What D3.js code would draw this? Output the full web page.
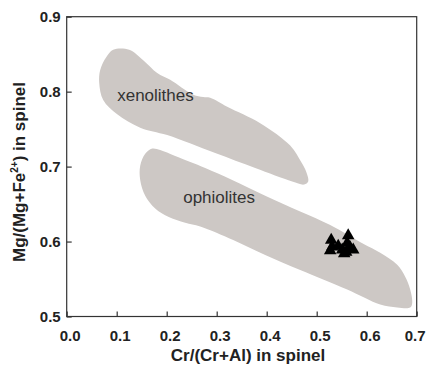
<!DOCTYPE html>
<html><head><meta charset="utf-8">
<script src="https://cdn.jsdelivr.net/npm/d3@7"></script>
<style>body{margin:0;background:#fff}svg{display:block}</style>
</head><body>
<svg id="c" width="426" height="365"></svg>
<script>
const xTicks = [0.0,0.1,0.2,0.3,0.4,0.5,0.6,0.7];
const yTicks = [0.5,0.6,0.7,0.8,0.9];
// field outlines [Cr/(Cr+Al), Mg/(Mg+Fe2+)]
const xenolithes = [[0.093,0.856],[0.125,0.856],[0.153,0.842],[0.181,0.825],[0.207,0.816],[0.253,0.796],[0.273,0.793],[0.287,0.792],[0.321,0.780],[0.387,0.758],[0.447,0.728],[0.469,0.706],[0.479,0.693],[0.483,0.680],[0.475,0.676],[0.451,0.680],[0.377,0.698],[0.297,0.718],[0.201,0.742],[0.147,0.752],[0.101,0.770],[0.073,0.789],[0.065,0.812],[0.067,0.829],[0.079,0.846]];
const ophiolites = [[0.171,0.724],[0.187,0.722],[0.217,0.714],[0.277,0.698],[0.331,0.682],[0.397,0.661],[0.467,0.640],[0.527,0.622],[0.593,0.597],[0.627,0.585],[0.661,0.569],[0.677,0.553],[0.687,0.536],[0.691,0.518],[0.687,0.512],[0.661,0.512],[0.627,0.516],[0.561,0.536],[0.467,0.562],[0.397,0.582],[0.333,0.602],[0.267,0.620],[0.237,0.625],[0.203,0.633],[0.177,0.644],[0.157,0.661],[0.147,0.682],[0.147,0.701],[0.157,0.717]];
const samplesX = [0.529,0.531,0.527,0.543,0.551,0.563,0.561,0.567,0.559,0.573,0.555];
const samplesY = [0.602,0.593,0.588,0.594,0.589,0.608,0.598,0.592,0.586,0.589,0.584];
const fieldLabels = [{name:"xenolithes",x:0.101,y:0.788},{name:"ophiolites",x:0.233,y:0.652}];

const W=426,H=365, m={l:66.7,r:9.3,t:16.7,b:48.5};
const svg=d3.select("#c");
const x=d3.scaleLinear().domain([0,0.7]).range([m.l,W-m.r]);
const y=d3.scaleLinear().domain([0.5,0.9]).range([H-m.b,m.t]);
const fill="#cdc8c5";
const line=d3.line().x(d=>x(d[0])).y(d=>y(d[1])).curve(d3.curveCatmullRomClosed.alpha(0.5));
[xenolithes,ophiolites].forEach(p=>svg.append("path").attr("d",line(p)).attr("fill",fill));

fieldLabels.forEach(l=>svg.append("text").attr("x",x(l.x)).attr("y",y(l.y))
  .attr("font-family","Liberation Sans, Arial, sans-serif").attr("font-size",17).attr("fill","#333").text(l.name));

const tri=d3.symbol().type(d3.symbolTriangle).size(68);
svg.selectAll(".s").data(samplesX.map((v,i)=>[v,samplesY[i]])).join("path")
  .attr("transform",d=>`translate(${x(d[0])},${y(d[1])})`).attr("d",tri).attr("fill","#000");

// frame
svg.append("rect").attr("x",x(0)).attr("y",y(0.9)).attr("width",x(0.7)-x(0)).attr("height",y(0.5)-y(0.9))
  .attr("fill","none").attr("stroke","#333").attr("stroke-width",1.2);

const font="Liberation Sans, Arial, sans-serif";
const ax=svg.append("g").attr("transform",`translate(0,${y(0.5)})`)
  .call(d3.axisBottom(x).tickValues(xTicks).tickSizeInner(-5).tickSizeOuter(0).tickPadding(14).tickFormat(d3.format(".1f")));
const ay=svg.append("g").attr("transform",`translate(${x(0)},0)`)
  .call(d3.axisLeft(y).tickValues(yTicks).tickSizeInner(-5).tickSizeOuter(0).tickPadding(6).tickFormat(d3.format(".1f")));
[ax,ay].forEach(g=>{g.select(".domain").remove();
  g.selectAll("line").attr("stroke","#333").attr("stroke-width",1.2);
  g.selectAll("text").attr("font-family",font).attr("font-size",15).attr("font-weight","bold").attr("fill","#222");});
ax.selectAll("text").attr("dx",(d,i)=>d>=0.65?-2:3);

svg.append("text").attr("x",248).attr("y",361).attr("text-anchor","middle")
  .attr("font-family",font).attr("font-size",17).attr("font-weight","bold").attr("fill","#222")
  .text("Cr/(Cr+Al) in spinel");
const yt=svg.append("text").attr("transform","translate(25,172) rotate(-90)").attr("text-anchor","middle")
  .attr("font-family",font).attr("font-size",17).attr("font-weight","bold").attr("fill","#222");
yt.append("tspan").text("Mg/(Mg+Fe");
yt.append("tspan").attr("font-size",10).attr("dy",-7).text("2+");
yt.append("tspan").attr("dy",7).text(") in spinel");
</script>
</body></html>
